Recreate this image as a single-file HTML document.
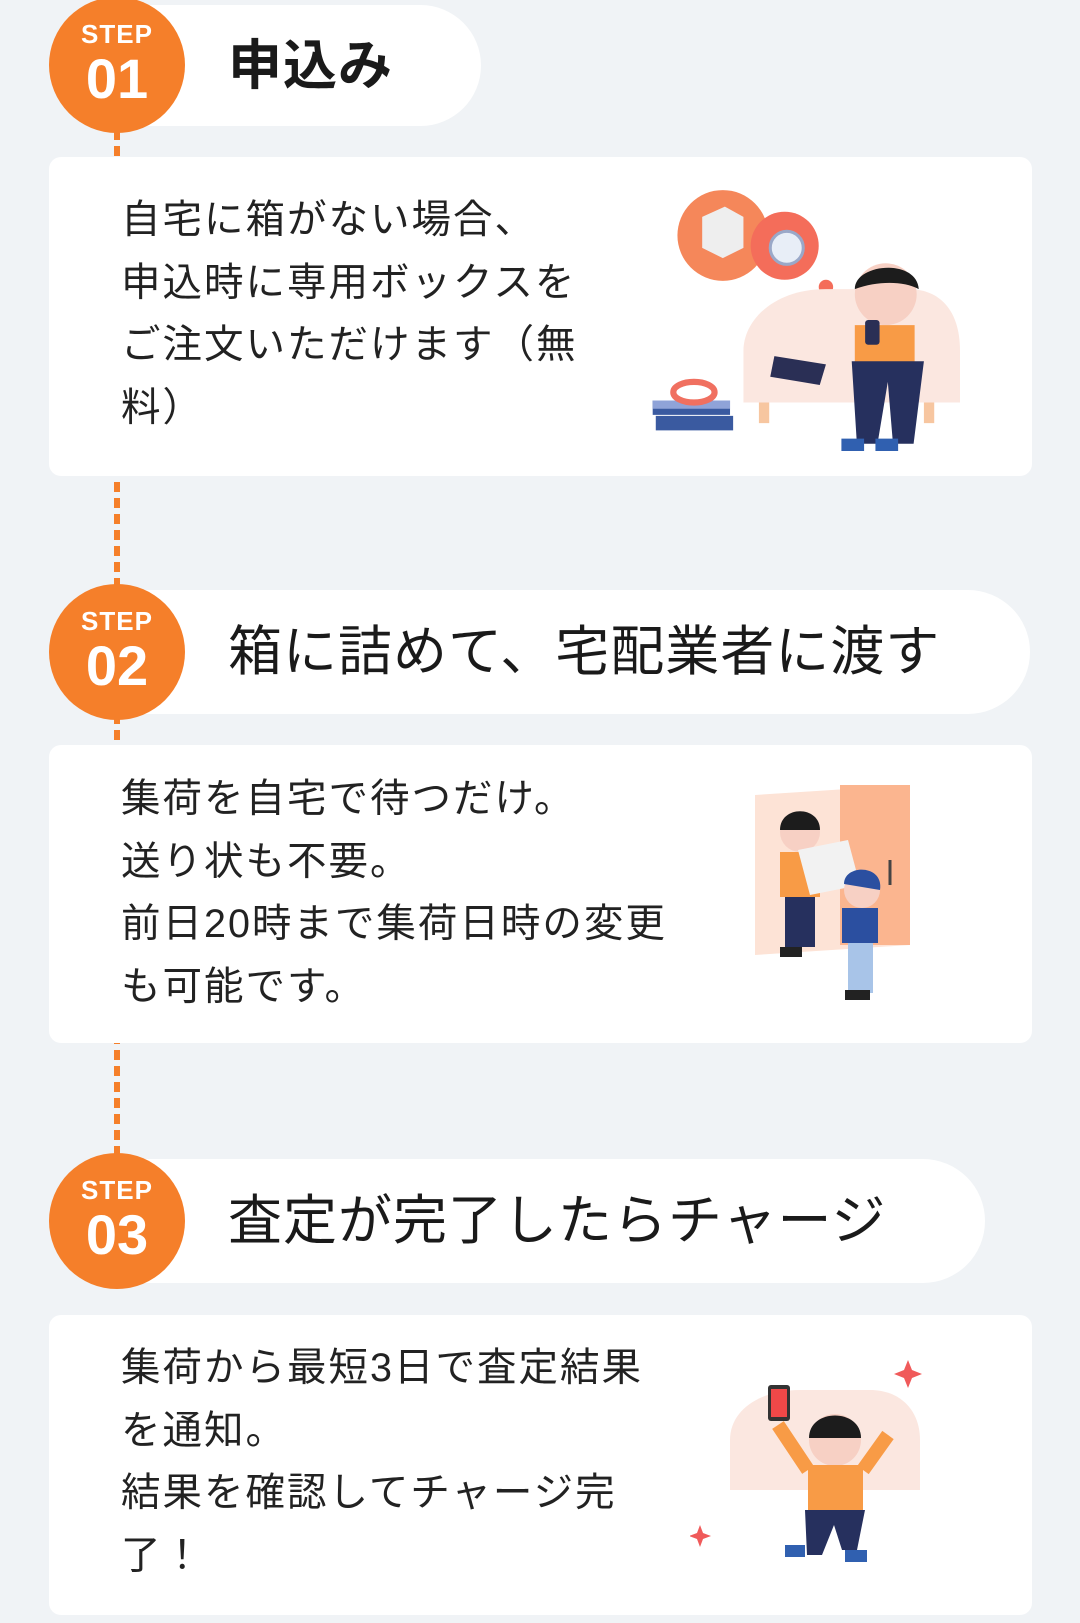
<!DOCTYPE html>
<html><head><meta charset="utf-8"><style>
body{margin:0;width:1080px;height:1623px;background:#f0f3f6;position:relative;overflow:hidden;font-family:"Liberation Sans","Noto Sans CJK JP",sans-serif;color:#222}
.abs{position:absolute}
.card{position:absolute;left:49px;width:983px;background:#fff;border-radius:12px}
.pill{position:absolute;left:117px;background:#fff;border-radius:0 62px 62px 0}
.circ{position:absolute;left:49px;width:136px;height:136px;border-radius:50%;background:#f57f2a;color:#fff;text-align:center;font-weight:bold}
.circ .s{position:absolute;top:22px;left:0;right:0;font-size:26px;letter-spacing:1px}
.circ .n{position:absolute;top:52px;left:0;right:0;font-size:56px;line-height:60px}
.title{position:absolute;left:228px;font-size:54px;line-height:60px;color:#1a1a1a;letter-spacing:1px}
.txt{position:absolute;left:121px;font-size:39.5px;line-height:62.5px;color:#222;letter-spacing:2px}
.dash{position:absolute;left:114px;width:6px;background:repeating-linear-gradient(#f57f2a 0 10px,transparent 10px 16px)}
</style></head><body>
<div class="dash" style="top:130px;height:460px"></div>
<div class="dash" style="top:714px;height:445px"></div>

<div class="pill" style="top:5px;width:364px;height:121px"></div>
<div class="circ" style="top:-3px"><div class="s">STEP</div><div class="n">01</div></div>
<div class="title" style="top:36px;font-weight:bold">申込み</div>

<div class="card" style="top:157px;height:319px"></div>
<div class="txt" style="top:189px">自宅に箱がない場合、<br>申込時に専用ボックスを<br>ご注文いただけます（無<br>料）</div>
<svg class="abs" style="left:630px;top:175px" width="330" height="290" viewBox="0 0 320 280">
<circle cx="90" cy="58" r="44" fill="#f5875a"/><circle cx="150" cy="68" r="33" fill="#f46d5a"/>
<path d="M70 40l22-10 18 10v30l-20 10-20-10z" fill="#eee"/><circle cx="152" cy="70" r="16" fill="#e8eef7" stroke="#9aa8c8" stroke-width="3"/>
<circle cx="190" cy="108" r="7" fill="#f46d5a"/><circle cx="206" cy="120" r="4" fill="#f46d5a"/>
<path d="M110 170c0-30 30-60 80-60h80c30 0 50 20 50 60v50H110z" fill="#fbe7e0"/>
<rect x="125" y="220" width="10" height="20" fill="#f7c6a0"/><rect x="285" y="220" width="10" height="20" fill="#f7c6a0"/>
<path d="M140 175l50 8-6 20-48-8z" fill="#2a2f55"/>
<path d="M22 218h75v14H22zM25 233h75v14H25z" fill="#3a5aa0"/><path d="M22 218h75v8H22z" fill="#8fa3d8"/>
<ellipse cx="62" cy="210" rx="20" ry="10" fill="none" stroke="#f07060" stroke-width="6"/>
<circle cx="248" cy="115" r="30" fill="#f7d0c4"/><path d="M218 110c0-25 60-30 62 0-15-8-40-8-62 0z" fill="#1c1c1c"/>
<path d="M218 145h58v40h-58z" fill="#f89b46"/><rect x="228" y="140" width="14" height="24" rx="3" fill="#2a2f55"/>
<path d="M215 180h70l-10 80h-20l-5-60-10 60h-20z" fill="#26305e"/>
<path d="M205 255h22v12h-22zM238 255h22v12h-22z" fill="#3060b0"/>
</svg>

<div class="pill" style="top:590px;width:913px;height:124px"></div>
<div class="circ" style="top:584px"><div class="s">STEP</div><div class="n">02</div></div>
<div class="title" style="top:622px">箱に詰めて、宅配業者に渡す</div>

<div class="card" style="top:745px;height:298px"></div>
<div class="txt" style="top:768px">集荷を自宅で待つだけ。<br>送り状も不要。<br>前日20時まで集荷日時の変更<br>も可能です。</div>
<svg class="abs" style="left:750px;top:780px" width="175" height="230" viewBox="0 0 175 230">
<path d="M5 15l155-10v160L5 175z" fill="#fde3d6"/><path d="M90 5h70v160H90z" fill="#fbb58f"/><path d="M140 80v25" stroke="#444" stroke-width="3"/>
<circle cx="50" cy="52" r="20" fill="#f7d0c4"/><path d="M30 50c0-25 40-25 40 0z" fill="#1c1c1c"/>
<path d="M30 72h40v45H30z" fill="#f89b46"/><path d="M35 117h30v50H35z" fill="#26305e"/>
<path d="M48 70l50-10 12 45-50 10z" fill="#f2f2f2"/>
<circle cx="112" cy="110" r="18" fill="#f7d0c4"/><path d="M94 104c0-20 40-20 36 6z" fill="#2b4fa0"/>
<path d="M92 128h36v35H92z" fill="#2b4fa0"/><path d="M98 163h25v50H98z" fill="#a8c4e8"/>
<path d="M30 167h22v10H30zM95 210h25v10H95z" fill="#222"/>
</svg>

<div class="pill" style="top:1159px;width:868px;height:124px"></div>
<div class="circ" style="top:1153px"><div class="s">STEP</div><div class="n">03</div></div>
<div class="title" style="top:1191px">査定が完了したらチャージ</div>

<div class="card" style="top:1315px;height:300px"></div>
<div class="txt" style="top:1337px">集荷から最短3日で査定結果<br>を通知。<br>結果を確認してチャージ完<br>了！</div>
<svg class="abs" style="left:690px;top:1350px" width="260" height="230" viewBox="0 0 260 230">
<path d="M40 90c0-30 30-50 70-50h70c30 0 50 20 50 50v50H40z" fill="#fbe7e0"/>
<rect x="78" y="35" width="22" height="36" rx="3" fill="#333"/><rect x="81" y="39" width="16" height="28" fill="#f04848"/>
<circle cx="145" cy="90" r="26" fill="#f7d0c4"/><path d="M119 88c0-30 52-30 52 0z" fill="#1c1c1c"/>
<path d="M118 115h55v45h-55z" fill="#f89b46"/><path d="M118 120l-30-45M173 120l25-35" stroke="#f89b46" stroke-width="14"/>
<path d="M115 160h60l-8 40h-15l-8-25-12 30h-15z" fill="#26305e"/>
<path d="M95 195h20v12H95zM155 200h22v12h-22z" fill="#3060b0"/>
<path d="M218 10l4 10 10 4-10 4-4 10-4-10-10-4 10-4z" fill="#f05a5a"/>
<path d="M10 175l3 8 8 3-8 3-3 8-3-8-8-3 8-3z" fill="#f05a5a"/>
</svg>
</body></html>
